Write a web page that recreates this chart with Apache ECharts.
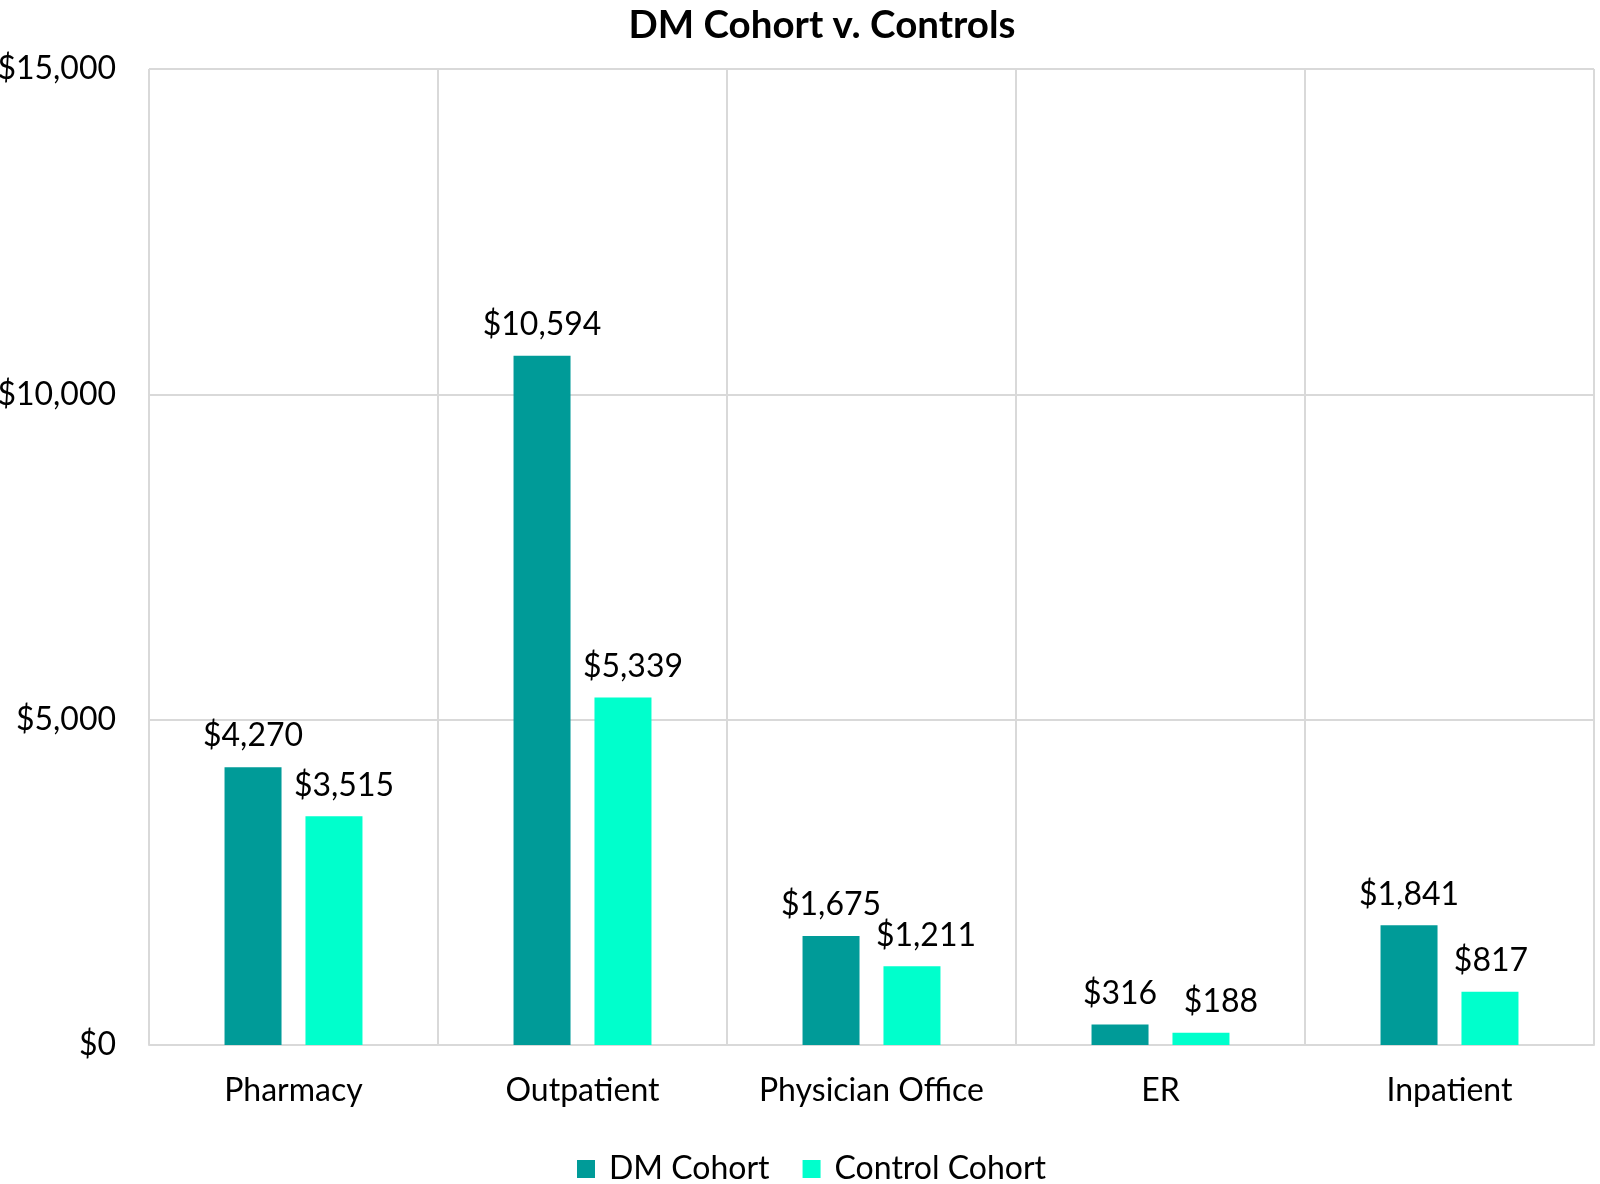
<!DOCTYPE html>
<html><head><meta charset="utf-8">
<script src="https://cdn.jsdelivr.net/npm/echarts@6/dist/echarts.min.js"></script>
<style>html,body{margin:0;padding:0;background:#fff}#c{width:1600px;height:1184px}</style>
</head><body><div id="c"></div>
<script>
const categories = ['Pharmacy', 'Outpatient', 'Physician Office', 'ER', 'Inpatient'];
const dmCohort = [4270, 10594, 1675, 316, 1841];
const controlCohort = [3515, 5339, 1211, 188, 817];
const seriesNames = ['DM Cohort', 'Control Cohort'];
const titleText = 'DM Cohort v. Controls';

// horizontal nudges of the control-cohort value labels (as placed in the original)
const controlLabelShift = [10, 10, 14, 20, 1];

const fmt = v => '$' + Number(v).toLocaleString('en-US');
const FONT = 'Lato';
const FS = 32;
const chart = echarts.init(document.getElementById('c'));
chart.setOption({
  animation: false,
  textStyle: { fontFamily: FONT },
  title: { text: titleText, left: 817, textAlign: 'center', top: 1, textStyle: { fontFamily: FONT, fontWeight: 'bold', fontSize: 38.5, color: '#000' } },
  legend: { top: 1148, left: 572, itemWidth: 18, itemHeight: 18, itemGap: 33, icon: 'rect',
    textStyle: { fontFamily: FONT, fontSize: FS, color: '#000', padding: [0, 0, 0, 9] }, data: seriesNames },
  grid: { left: 149, right: 6, top: 69, bottom: 139, containLabel: false, outerBoundsMode: 'none' },
  xAxis: { type: 'category', data: categories,
    axisLine: { lineStyle: { color: '#D9D9D9', width: 2 } }, axisTick: { show: false },
    splitLine: { show: true, interval: 0, lineStyle: { color: '#D9D9D9', width: 2 } },
    axisLabel: { interval: 0, fontFamily: FONT, fontSize: FS, color: '#000', margin: 30 } },
  yAxis: { type: 'value', min: 0, max: 15000, interval: 5000,
    axisLine: { show: false }, axisTick: { show: false },
    splitLine: { lineStyle: { color: '#D9D9D9', width: 2 } },
    axisLabel: { fontFamily: FONT, fontSize: FS, color: '#000', margin: 33, formatter: fmt } },
  series: [
    { name: seriesNames[0], type: 'bar', data: dmCohort, barWidth: 57, barGap: '42%',
      itemStyle: { color: '#009B98' },
      label: { show: true, position: 'top', distance: 15, fontFamily: FONT, fontSize: FS, color: '#000', formatter: p => fmt(p.value) } },
    { name: seriesNames[1], type: 'bar', barWidth: 57,
      data: controlCohort.map((v, i) => ({ value: v, label: { offset: [controlLabelShift[i], 0] } })),
      itemStyle: { color: '#00FFCC' },
      label: { show: true, position: 'top', distance: 15, fontFamily: FONT, fontSize: FS, color: '#000', formatter: p => fmt(p.value) } }
  ]
});
</script></body></html>
